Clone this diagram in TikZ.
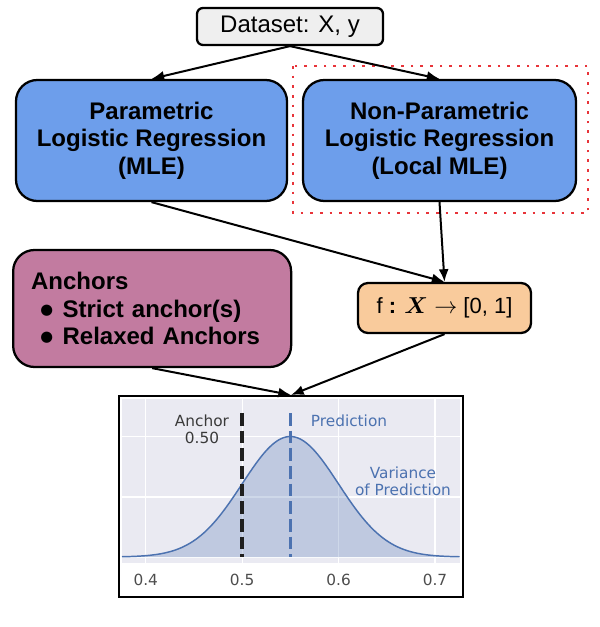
\documentclass[tikz,border=0pt]{standalone}
\usepackage{amsmath}
\usepackage{fontspec}
\setmainfont{Liberation Sans}
\newfontfamily\plotfont{DejaVu Sans}
\usetikzlibrary{arrows.meta}
\definecolor{boxgray}{HTML}{EFEFEF}
\definecolor{boxblue}{HTML}{6D9EEB}
\definecolor{boxpink}{HTML}{C27BA0}
\definecolor{boxpeach}{HTML}{F9CB9C}
\definecolor{dotred}{HTML}{E8343A}
\definecolor{plotbg}{HTML}{EAEAF2}
\definecolor{plotblue}{HTML}{4C72B0}
\definecolor{labelgray}{HTML}{3A3A3A}
\definecolor{tickgray}{HTML}{4D4D4D}
\newcommand{\bulletdot}{\raisebox{2.2pt}{\plotfont\fontsize{11}{12}\selectfont ●}}

\begin{document}
\begin{tikzpicture}[x=0.75pt, y=-0.75pt,
    box/.style={draw=black, line width=1.7pt, rounded corners=16pt, align=center,
      inner sep=0pt, font=\fontsize{18}{20.5}\selectfont\bfseries},
    link/.style={line width=1.5pt, -{Latex[length=9.5pt,width=7.5pt]}},
    plotlabel/.style={font=\plotfont\fontsize{11.5}{12.75}\selectfont, align=center},
    marker/.style={line width=2.6pt, dash pattern=on 9.5pt off 3.75pt}]
  \useasboundingbox (0,0) rectangle (599,627);

  % boxes
  \node[box, fill=boxgray, rounded corners=4.5pt, minimum width=139.5pt, minimum height=27.75pt,
    font=\fontsize{18}{20}\selectfont] (data) at (290,26.5) {Dataset: X, y};
  \node[box, fill=boxblue, minimum width=203.25pt, minimum height=90.75pt] (param) at (151.5,140.5)
    {Parametric\\Logistic Regression\\(MLE)};
  \node[box, fill=boxblue, minimum width=204.75pt, minimum height=90.75pt] (nonparam) at (439.5,140.5)
    {Non-Parametric\\Logistic Regression\\(Local MLE)};
  \draw[dotred, line width=2pt, dash pattern=on 2pt off 5.25pt] (293,66) rectangle (588,213);
  \node[box, fill=boxpink, anchor=west, align=left, text width=181.5pt, inner xsep=13.5pt,
    minimum height=87.75pt] (anchors) at (12,308.5)
    {Anchors\\
     \hspace*{7pt}\bulletdot\hspace{7pt}Strict anchor(s)\\
     \hspace*{7pt}\bulletdot\hspace{7pt}Relaxed Anchors};
  \node[box, fill=boxpeach, rounded corners=7.5pt, minimum width=129.75pt, minimum height=37.5pt,
    font=\fontsize{16.5}{19}\selectfont] (map) at (444.5,308)
    {f \textbf{:} $\boldsymbol{X}\rightarrow$ [0, 1]};

  % plot panel
  \node[draw=black, line width=1.5pt, fill=white, minimum width=258pt, minimum height=150.75pt,
    inner sep=0pt] (plot) at (291,496.5) {};
  \fill[plotbg] (122,398.5) rectangle (459.5,563);
  \foreach \gx in {145.7,242.1,338.6,435}
    \draw[white, line width=0.9pt] (\gx,398.5) -- (\gx,563);
  \foreach \gy in {436.7,497,557.5}
    \draw[white, line width=0.9pt] (122,\gy) -- (459.5,\gy);
  \fill[plotblue, opacity=0.27] plot[domain=122:459.5, samples=120]
    (\x, {557-120.5*exp(-0.5*((\x-290.3)/48.2)*((\x-290.3)/48.2))}) -- (459.5,557) -- (122,557) -- cycle;
  \draw[plotblue, line width=1.1pt] plot[domain=122:459.5, samples=120]
    (\x, {557-120.5*exp(-0.5*((\x-290.3)/48.2)*((\x-290.3)/48.2))});
  \draw[marker, black!88] (242.1,413) -- (242.1,557);
  \draw[marker, plotblue] (290.3,413) -- (290.3,557);
  \node[plotlabel, text=labelgray] (anchorlbl) at (202,429) {Anchor\\0.50};
  \node[plotlabel, text=plotblue] (predlbl) at (349,421) {Prediction};
  \node[plotlabel, text=plotblue] (varlbl) at (403,481.5) {Variance\\of Prediction};
  \foreach \gx/\tk in {145.7/0.4,242.1/0.5,338.6/0.6,435/0.7}
    \node[plotlabel, text=tickgray] at (\gx,580) {\tk};

  % connectors
  \draw[link] (data.south) -- (param.north);
  \draw[link] (data.south) -- (nonparam.north);
  \draw[link] (param.south) -- (map.north);
  \draw[link] (nonparam.south) -- (map.north);
  \draw[link] (anchors.south) -- (plot.north);
  \draw[link] (map.south) -- (plot.north);
\end{tikzpicture}
\end{document}
